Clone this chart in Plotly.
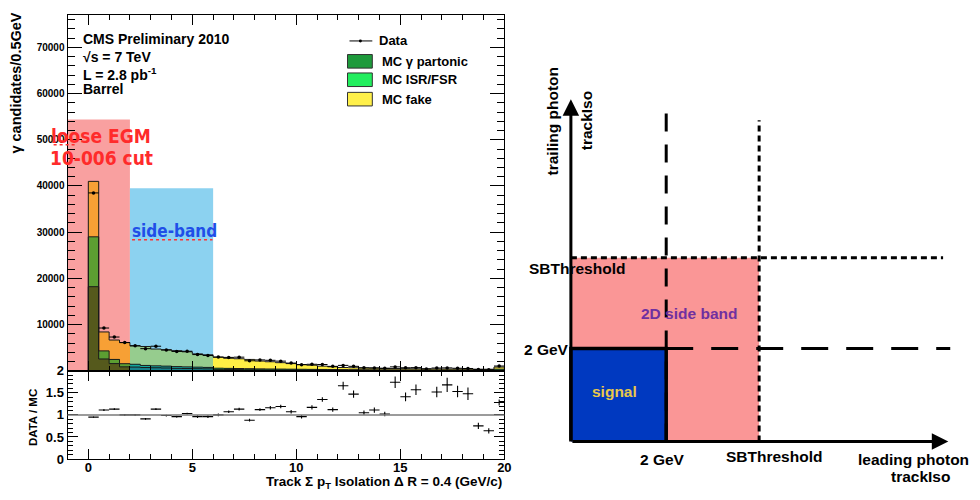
import plotly.graph_objects as go

# ---------------- left panel: histogram data ----------------
bin_centers = [0.25, 0.75, 1.25, 1.75, 2.25, 2.75, 3.25, 3.75, 4.25, 4.75,
               5.25, 5.75, 6.25, 6.75, 7.25, 7.75, 8.25, 8.75, 9.25, 9.75,
               10.25, 10.75, 11.25, 11.75, 12.25, 12.75, 13.25, 13.75, 14.25, 14.75,
               15.25, 15.75, 16.25, 16.75, 17.25, 17.75, 18.25, 18.75, 19.25, 19.75]
bin_width = 0.5

mc_partonic = [18200, 2550, 1550, 850, 800, 700, 650, 600, 520, 480,
               450, 420, 300, 280, 260, 240, 220, 200, 190, 180,
               170, 160, 150, 140, 130, 120, 115, 110, 105, 100,
               95, 90, 85, 80, 80, 75, 70, 70, 65, 150]
mc_isr_fsr = [10800, 1750, 900, 680, 600, 450, 420, 400, 380, 360,
              330, 300, 250, 230, 220, 210, 190, 180, 170, 160,
              150, 140, 130, 120, 110, 100, 95, 90, 85, 80,
              80, 75, 70, 70, 65, 60, 60, 55, 55, 200]
mc_fake = [12000, 4100, 4200, 4570, 4000, 4100, 3630, 3550, 3450, 3260,
           2870, 2730, 2400, 2190, 2120, 2000, 1690, 1570, 1390, 1210,
           1030, 900, 720, 590, 460, 430, 390, 360, 330, 300,
           285, 265, 255, 240, 225, 215, 200, 215, 210, 450]
data_counts = [38500, 9250, 7300, 6100, 5400, 4780, 5310, 4480, 4180, 4220,
               3500, 3310, 2950, 2890, 2940, 2160, 2350, 2260, 2080, 1660,
               1300, 1400, 1350, 950, 1160, 955, 630, 620, 530, 835,
               650, 675, 400, 590, 620, 535, 490, 255, 210, 1025]
data_err = [196, 96, 85, 78, 73, 69, 73, 67, 65, 65,
            59, 58, 54, 54, 54, 46, 48, 48, 46, 41,
            36, 37, 37, 31, 34, 31, 25, 25, 23, 29,
            25, 26, 20, 24, 25, 23, 22, 16, 14, 32]
ratio_vals = [0.95, 1.11, 1.13, 1.0, 1.0, 0.91, 1.13, 0.985, 0.96, 1.03,
              0.96, 0.96, 1.0, 1.07, 1.13, 0.88, 1.12, 1.16, 1.19, 1.07,
              0.96, 1.17, 1.35, 1.12, 1.66, 1.47, 1.05, 1.11, 1.02, 1.74,
              1.41, 1.57, None, 1.52, 1.68, 1.53, 1.48, 0.75, 0.64, 1.28]
ratio_err = [0.01, 0.02, 0.02, 0.02, 0.02, 0.02, 0.02, 0.02, 0.02, 0.02,
             0.03, 0.03, 0.03, 0.03, 0.03, 0.03, 0.03, 0.04, 0.04, 0.04,
             0.04, 0.05, 0.05, 0.05, 0.09, 0.08, 0.05, 0.06, 0.05, 0.13,
             0.10, 0.12, 0.0, 0.12, 0.16, 0.13, 0.14, 0.07, 0.06, 0.07]

x_tickvals = [0, 5, 10, 15, 20]
main_tickvals = [10000, 20000, 30000, 40000, 50000, 60000, 70000]
main_ticktext = ["10000", "20000", "30000", "40000", "50000", "60000", "70000"]
ratio_tickvals = [0, 0.5, 1, 1.5, 2]
ratio_ticktext = ["0", "0.5", "1", "1.5", "2"]

loose_cut_box = [-1, 2, 54400]     # x0, x1, top
sideband_box = [2, 6, 39500]

# ---------------- right panel: schematic ----------------
signal_cut = 2.0
sb_threshold = 3.95

FONT = "Liberation Sans"
W, H = 980, 500


def px(xp):
    return xp / W


def py(yp):
    return 1 - yp / H


def region_of(c):
    if c < loose_cut_box[1]:
        return "red"
    if c < sideband_box[1]:
        return "blue"
    return "none"


palette = {
    "none": ["#1E913C", "#33E863", "#FFEF45"],
    "red": ["#55591C", "#5C9E32", "#F7A035"],
    "blue": ["#17818C", "#12A79E", "#96CC8E"],
}

fig = go.Figure()

# stacked MC
for li, (vals, name) in enumerate([(mc_partonic, "MC γ partonic"),
                                   (mc_isr_fsr, "MC ISR/FSR"),
                                   (mc_fake, "MC fake")]):
    fig.add_trace(go.Bar(
        x=bin_centers, y=vals, width=bin_width, name=name,
        marker=dict(color=[palette[region_of(c)][li] for c in bin_centers],
                    line=dict(width=0)),
        xaxis="x", yaxis="y", showlegend=False))

# step outlines of each cumulative layer
cum = [0] * len(bin_centers)
for vals in (mc_partonic, mc_isr_fsr, mc_fake):
    cum = [a + b for a, b in zip(cum, vals)]
    edges = [c - bin_width / 2 for c in bin_centers]
    xs = [edges[0]] + edges + [bin_centers[-1] + bin_width / 2, bin_centers[-1] + bin_width / 2]
    ys = [0] + cum + [cum[-1], 0]
    fig.add_trace(go.Scatter(x=xs, y=ys, mode="lines", line=dict(color="#1a1a1a", width=1, shape="hv"),
                             xaxis="x", yaxis="y", showlegend=False, hoverinfo="skip"))

# data
fig.add_trace(go.Scatter(
    x=bin_centers, y=data_counts, mode="markers",
    marker=dict(color="black", size=3.5),
    error_x=dict(type="constant", value=bin_width / 2, width=0, color="black", thickness=1),
    error_y=dict(type="data", array=data_err, width=0, color="black", thickness=1),
    xaxis="x", yaxis="y", showlegend=False))

# ratio
fig.add_trace(go.Scatter(
    x=bin_centers, y=ratio_vals, mode="markers",
    marker=dict(color="black", size=1),
    error_x=dict(type="constant", value=bin_width / 2, width=0, color="black", thickness=1.1),
    error_y=dict(type="data", array=ratio_err, width=0, color="black", thickness=1.1),
    xaxis="x2", yaxis="y2", showlegend=False))

shapes = []
# highlight boxes
shapes.append(dict(type="rect", xref="x", yref="y", x0=loose_cut_box[0], x1=loose_cut_box[1],
                   y0=0, y1=loose_cut_box[2], fillcolor="#F9A0A0", line=dict(width=0), layer="below"))
shapes.append(dict(type="rect", xref="x", yref="y", x0=sideband_box[0], x1=sideband_box[1],
                   y0=0, y1=sideband_box[2], fillcolor="#8CD2F0", line=dict(width=0), layer="below"))
# ratio = 1 line
shapes.append(dict(type="line", xref="x2 domain", yref="y2", x0=0, x1=1, y0=1, y1=1,
                   line=dict(color="#7a7a7a", width=1.5)))

# legend (drawn by hand, ROOT style)
leg_colors = ["#1E9A3C", "#22EE5E", "#FFF04A"]
leg_names = ["MC γ partonic", "MC ISR/FSR", "MC fake"]
leg_rows = [56, 75, 95]
annotations = []
shapes.append(dict(type="line", xref="paper", yref="paper", x0=px(352), x1=px(375), y0=py(35), y1=py(35),
                   line=dict(color="black", width=1)))
shapes.append(dict(type="circle", xref="paper", yref="paper", x0=px(361.5), x1=px(364.5), y0=py(36.5), y1=py(33.5),
                   fillcolor="black", line=dict(width=0)))
annotations.append(dict(text="Data", x=px(380), y=py(35), xref="paper", yref="paper", showarrow=False,
                        xanchor="left", yanchor="middle", font=dict(family=FONT, size=13, weight="bold", color="black")))
for col, name, row in zip(leg_colors, leg_names, leg_rows):
    shapes.append(dict(type="rect", xref="paper", yref="paper", x0=px(350), x1=px(375),
                       y0=py(row + 7), y1=py(row - 7), fillcolor=col, line=dict(color="#333333", width=1)))
    annotations.append(dict(text=name, x=px(383), y=py(row), xref="paper", yref="paper", showarrow=False,
                            xanchor="left", yanchor="middle",
                            font=dict(family=FONT, size=13, weight="bold", color="black")))

# header text
for txt, yy in [("CMS Preliminary 2010", 33), ("√s = 7 TeV", 52), ("L = 2.8 pb<sup>-1</sup>", 69), ("Barrel", 85)]:
    annotations.append(dict(text=txt, x=px(82), y=py(yy), xref="paper", yref="paper", showarrow=False,
                            xanchor="left", yanchor="middle",
                            font=dict(family=FONT, size=14, weight="bold", color="black")))

# hand-written annotations
HAND = "DejaVu Sans Condensed"
annotations.append(dict(text="loose EGM", x=px(49), y=py(133), xref="paper", yref="paper", showarrow=False,
                        xanchor="left", yanchor="middle",
                        font=dict(family=HAND, size=19, weight="bold", color="#FF2B2B")))
annotations.append(dict(text="10-006 cut", x=px(48), y=py(156), xref="paper", yref="paper", showarrow=False,
                        xanchor="left", yanchor="middle",
                        font=dict(family=HAND, size=19, weight="bold", color="#FF2B2B")))
annotations.append(dict(text="side-band", x=px(131), y=py(231), xref="paper", yref="paper", showarrow=False,
                        xanchor="left", yanchor="middle",
                        font=dict(family=HAND, size=17, weight="bold", color="#1F4FE8")))
shapes.append(dict(type="line", xref="paper", yref="paper", x0=px(133), x1=px(214), y0=py(240), y1=py(240),
                   line=dict(color="#FF3030", width=1.5, dash="dot")))
shapes.append(dict(type="line", xref="paper", yref="paper", x0=px(54), x1=px(76), y0=py(142), y1=py(142),
                   line=dict(color="#FF3030", width=1.5, dash="dot")))

# axis titles
annotations.append(dict(text="γ candidates/0.5GeV", x=px(16), y=py(78), xref="paper", yref="paper", showarrow=False,
                        textangle=-90, xanchor="center", yanchor="middle",
                        font=dict(family=FONT, size=14.5, weight="bold", color="black")))
annotations.append(dict(text="DATA / MC", x=px(34), y=py(423), xref="paper", yref="paper", showarrow=False,
                        textangle=-90, xanchor="center", yanchor="middle",
                        font=dict(family=FONT, size=11.5, weight="bold", color="black")))
annotations.append(dict(text="Track Σ p<sub>T</sub> Isolation Δ R = 0.4 (GeV/c)", x=px(508), y=py(490),
                        xref="paper", yref="paper", showarrow=False, xanchor="right", yanchor="middle",
                        font=dict(family=FONT, size=13.5, weight="bold", color="black")))

# ---------------- right schematic ----------------
D = dict(xaxis="x3", yaxis="y3", showlegend=False, hoverinfo="skip")
shapes.append(dict(type="rect", xref="x3", yref="y3", x0=0, x1=sb_threshold, y0=0, y1=sb_threshold,
                   fillcolor="#FA9696", line=dict(width=0), layer="below"))
shapes.append(dict(type="rect", xref="x3", yref="y3", x0=0, x1=signal_cut, y0=0, y1=signal_cut,
                   fillcolor="#0039C0", line=dict(width=0), layer="below"))
# cut lines
fig.add_trace(go.Scatter(x=[signal_cut, signal_cut], y=[0, 7.08], mode="lines",
                         line=dict(color="black", width=3, dash="18px,13px"), **D))
fig.add_trace(go.Scatter(x=[signal_cut, 7.96], y=[signal_cut, signal_cut], mode="lines",
                         line=dict(color="black", width=3, dash="27px,18px"), **D))
fig.add_trace(go.Scatter(x=[sb_threshold, sb_threshold], y=[0, 6.9], mode="lines",
                         line=dict(color="black", width=3, dash="6px,4px"), **D))
fig.add_trace(go.Scatter(x=[0, 7.81], y=[sb_threshold, sb_threshold], mode="lines",
                         line=dict(color="black", width=3, dash="6px,4px"), **D))
# signal box border
fig.add_trace(go.Scatter(x=[0, 0, signal_cut, signal_cut], y=[0, signal_cut, signal_cut, 0], mode="lines",
                         line=dict(color="black", width=3.5), **D))
# axes arrows
for (xt, yt) in [(7.92, 0), (0, 7.35)]:
    annotations.append(dict(x=xt, y=yt, ax=0, ay=0, xref="x3", yref="y3", axref="x3", ayref="y3",
                            text="", showarrow=True, arrowhead=2, arrowsize=1.1, arrowwidth=3,
                            arrowcolor="black", standoff=0))

DF = dict(family=FONT, size=15.5, weight="bold", color="black")
for txt, xx, yy, col in [("SBThreshold", 581, 270, "black"), ("2 GeV", 550, 353, "black"),
                         ("2 GeV", 667, 466, "black"), ("SBThreshold", 780, 463, "black"),
                         ("leading photon", 920, 467, "black"), ("trackIso", 927, 484, "black"),
                         ("2D side band", 694, 316, "#7030A0"), ("signal", 619, 396, "#E8C84A")]:
    f = dict(DF)
    f["color"] = col
    annotations.append(dict(text=txt, x=px(xx), y=py(yy), xref="paper", yref="paper", showarrow=False,
                            xanchor="center", yanchor="middle", font=f))
for txt, xx, yy in [("trailing photon", 556, 118), ("trackIso", 591, 117)]:
    annotations.append(dict(text=txt, x=px(xx), y=py(yy), xref="paper", yref="paper", showarrow=False,
                            textangle=-90, xanchor="center", yanchor="middle", font=DF))

X_DOM = [px(68), px(508)]
tickfont_small = dict(family=FONT, size=10, weight="bold", color="black")
tickfont_big = dict(family=FONT, size=13, weight="bold", color="black")
ax_common = dict(showline=True, linecolor="black", linewidth=1, mirror="ticks", ticks="inside",
                 tickcolor="black", showgrid=False, zeroline=False)

fig.update_layout(
    width=W, height=H, margin=dict(l=0, r=0, t=0, b=0), autosize=False,
    paper_bgcolor="white", plot_bgcolor="rgba(0,0,0,0)",
    barmode="stack", bargap=0, showlegend=False,
    xaxis=dict(domain=X_DOM, range=[-1, 20], anchor="y", tickmode="array", tickvals=x_tickvals,
               showticklabels=False, ticklen=10,
               minor=dict(dtick=1, tick0=0, ticklen=5, ticks="inside", tickcolor="black"), **ax_common),
    yaxis=dict(domain=[py(375), py(8)], range=[0, 77070], anchor="x", tickmode="array",
               tickvals=main_tickvals, ticktext=main_ticktext, ticklen=14, tickfont=tickfont_small,
               minor=dict(dtick=2000, tick0=0, ticklen=7, ticks="inside", tickcolor="black"), **ax_common),
    xaxis2=dict(domain=X_DOM, range=[-1, 20], anchor="y2", tickmode="array", tickvals=x_tickvals,
                ticklen=10, tickfont=tickfont_big, ticklabelstandoff=-4,
                minor=dict(dtick=1, tick0=0, ticklen=5, ticks="inside", tickcolor="black"), **ax_common),
    yaxis2=dict(domain=[py(466), py(375)], range=[0, 2], anchor="x2", tickmode="array",
                tickvals=ratio_tickvals, ticktext=ratio_ticktext, ticklen=10, tickfont=tickfont_big,
                minor=dict(dtick=0.1, tick0=0, ticklen=5, ticks="inside", tickcolor="black"), **ax_common),
    xaxis3=dict(domain=[px(560), px(970)], range=[-15 / 48, 395 / 48], anchor="y3", visible=False),
    yaxis3=dict(domain=[py(460), py(85)], range=[-12 / 48, 363 / 48], anchor="x3", visible=False),
    shapes=shapes, annotations=annotations,
)

fig.write_html("out.html",
               config={"displayModeBar": False, "responsive": False, "staticPlot": True},
               post_script="document.documentElement.style.overflow='hidden';"
                           "document.body.style.overflow='hidden';"
                           "document.body.style.margin='0';document.body.style.padding='0';")
